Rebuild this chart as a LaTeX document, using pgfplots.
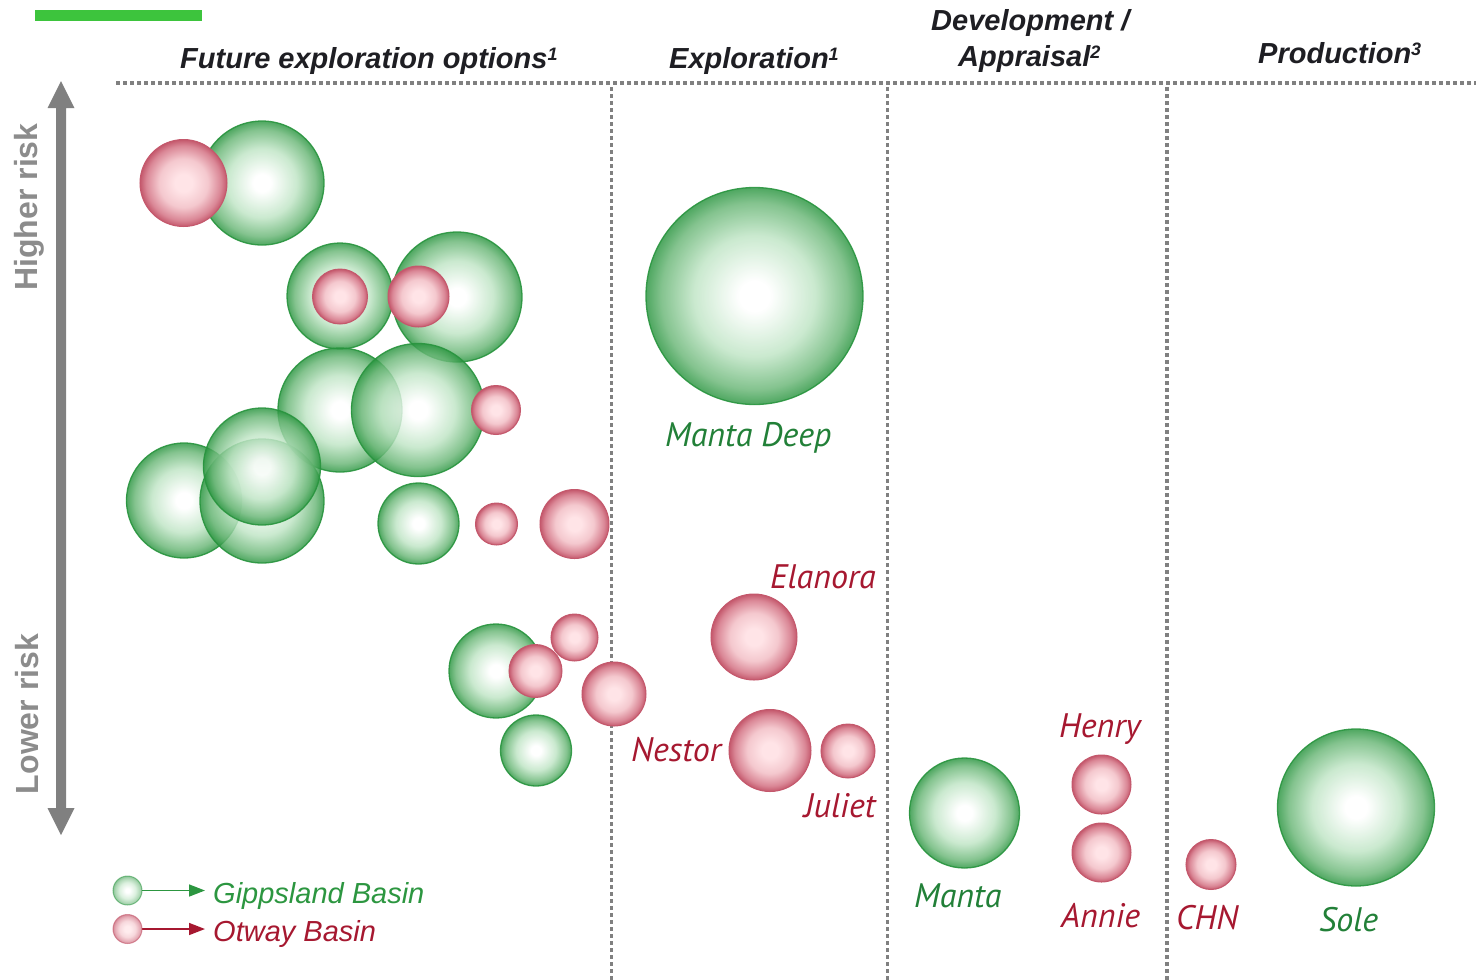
\documentclass[border=0pt]{standalone}
\usepackage{pgfplots}
\pgfplotsset{compat=1.18}
\usepackage{pgfplotstable}
\usetikzlibrary{arrows.meta}
\usepackage{fontspec}
\setmainfont{Liberation Sans}
\newfontfamily\ptsans{PT Sans}

\definecolor{gEdge}{RGB}{40,148,62}
\definecolor{gM2}{RGB}{105,182,118}
\definecolor{gM1}{RGB}{190,228,196}
\definecolor{rEdge}{RGB}{196,88,108}
\definecolor{rM2}{RGB}{218,135,150}
\definecolor{rM1}{RGB}{244,200,206}
\definecolor{rCen}{RGB}{255,228,231}
\definecolor{gText}{RGB}{34,128,56}
\definecolor{gLeg}{RGB}{44,150,64}
\definecolor{rText}{RGB}{166,24,48}
\definecolor{dotGray}{RGB}{128,128,128}
\definecolor{riskGray}{RGB}{140,140,140}
\definecolor{hdr}{RGB}{30,30,35}
\definecolor{barGreen}{RGB}{61,196,61}

\pgfdeclareradialshading{gshade}{\pgfpoint{0bp}{0bp}}{color(0bp)=(white); color(3.5bp)=(white); color(14bp)=(gM1); color(21.5bp)=(gM2); color(25bp)=(gEdge); color(50bp)=(gEdge)}
\pgfdeclareradialshading{rshade}{\pgfpoint{0bp}{0bp}}{color(0bp)=(rCen); color(5bp)=(rCen); color(14bp)=(rM1); color(21.5bp)=(rM2); color(25bp)=(rEdge); color(50bp)=(rEdge)}

\pgfdeclareplotmark{gball}{%
  \pgfpathcircle{\pgfpointorigin}{\pgfplotmarksize}%
  \pgfshadepath{gshade}{0}%
  \pgfsetstrokecolor{gEdge}%
  \pgfusepath{stroke}}
\pgfdeclareplotmark{rball}{%
  \pgfpathcircle{\pgfpointorigin}{\pgfplotmarksize}%
  \pgfshadepath{rshade}{0}%
  \pgfsetstrokecolor{rEdge}%
  \pgfusepath{stroke}}

\pgfplotstableread{
x y r
262 183 62
340 296 53
457 297 65
340 410 62
418 410 66.5
184 500.5 57.5
262 501 62
262 466.5 58.5
418.5 523.5 40.5
754.5 296 108.5
496 671 47
536 750.5 35.5
964.5 813 55
1356 807.5 78.5
}\greenTab

\pgfplotstableread{
x y r
183.5 183 43.5
340 296.5 27.5
418.5 296.5 30.5
496 410 24.5
496.5 524 21
574.5 524 34.5
574.5 637.5 23.5
535.5 671 26.5
614 694 32
754 637 43
770 750.5 41
848 751 27
1101.5 784.5 29.5
1101.5 852.5 29.5
1211 864.5 25
}\redTab

\newcommand\hfont{\fontsize{29bp}{34bp}\selectfont\bfseries\itshape}
\newcommand\lfont{\fontsize{34bp}{38bp}\selectfont\ptsans\itshape}
\newcommand\legfont{\fontsize{29bp}{34bp}\selectfont\itshape}
\newcommand\riskfont{\fontsize{32bp}{36bp}\selectfont\bfseries}
\newcommand\sups[1]{\raisebox{8bp}{\fontsize{18bp}{18bp}\selectfont #1}}

\begin{document}
\begin{tikzpicture}
\begin{axis}[width=1476bp, height=980bp, scale only axis,
  xmin=0, xmax=1476, ymin=0, ymax=980, y dir=reverse,
  hide axis, clip=false]

% green bar
\fill[barGreen] (35,10) rectangle (202,21);

% bubbles
\addplot[scatter, only marks, mark=gball, line width=1.3bp, fill opacity=0.82, draw opacity=0.9,
  visualization depends on={\thisrow{r} \as \rr},
  scatter/@pre marker code/.code={\pgfsetplotmarksize{\rr bp}},
  scatter/@post marker code/.code={}]
  table[x=x, y=y] {\greenTab};
\addplot[scatter, only marks, mark=rball, line width=1.0bp,
  visualization depends on={\thisrow{r} \as \rr},
  scatter/@pre marker code/.code={\pgfsetplotmarksize{\rr bp}},
  scatter/@post marker code/.code={}]
  table[x=x, y=y] {\redTab};

% legend markers
\addplot[only marks, mark=gball, mark size=14.5bp, line width=1bp, fill opacity=0.55, draw opacity=0.5] coordinates {(127.5,890.5)};
\addplot[only marks, mark=rball, mark size=14.5bp, line width=1bp, fill opacity=0.7, draw opacity=0.6] coordinates {(127.5,929)};
\draw[gLeg, line width=1.6bp, -{Triangle[length=16bp,width=12bp]}] (142,890.5) -- (205,890.5);
\draw[rText, line width=1.6bp, -{Triangle[length=16bp,width=12bp]}] (142,929) -- (205,929);
\node[anchor=base west, inner sep=0, text=gLeg, font=\legfont] at (213,903) {Gippsland Basin};
\node[anchor=base west, inner sep=0, text=rText, font=\legfont] at (213,941) {Otway Basin};

% dotted separators
\draw[dotGray, line width=3.5bp, dash pattern=on 3.5bp off 3.5bp] (116,83) -- (1476,83);
\draw[dotGray, line width=3.5bp, dash pattern=on 3.5bp off 3.5bp] (611.5,87) -- (611.5,980);
\draw[dotGray, line width=3.5bp, dash pattern=on 3.5bp off 3.5bp] (887.5,87) -- (887.5,980);
\draw[dotGray, line width=3.5bp, dash pattern=on 3.5bp off 3.5bp] (1167,87) -- (1167,980);

% headers
\node[anchor=base west, inner sep=0, text=hdr, font=\hfont] at (180,68) {Future exploration options\sups{1}};
\node[anchor=base west, inner sep=0, text=hdr, font=\hfont] at (669,68) {Exploration\sups{1}};
\node[anchor=base west, inner sep=0, text=hdr, font=\hfont] at (931,30) {Development /};
\node[anchor=base west, inner sep=0, text=hdr, font=\hfont] at (958,66) {Appraisal\sups{2}};
\node[anchor=base west, inner sep=0, text=hdr, font=\hfont] at (1258,63) {Production\sups{3}};

% risk arrow
\fill[dotGray] (61,81) -- (74.5,108) -- (66,108) -- (66,808) -- (74.5,808) -- (61,835)
  -- (47.5,808) -- (56,808) -- (56,108) -- (47.5,108) -- cycle;
\node[anchor=base, inner sep=0, rotate=90, text=riskGray, font=\riskfont] at (37.5,207) {Higher risk};
\node[anchor=base, inner sep=0, rotate=90, text=riskGray, font=\riskfont] at (38,714) {Lower risk};

% bubble labels
\node[anchor=base west, inner sep=0, text=gText, font=\lfont] at (665,446) {Manta Deep};
\node[anchor=base west, inner sep=0, text=rText, font=\lfont] at (770,588) {Elanora};
\node[anchor=base west, inner sep=0, text=rText, font=\lfont] at (631,761) {Nestor};
\node[anchor=base west, inner sep=0, text=rText, font=\lfont] at (804,817) {Juliet};
\node[anchor=base west, inner sep=0, text=rText, font=\lfont] at (1059,737) {Henry};
\node[anchor=base west, inner sep=0, text=rText, font=\lfont] at (1061,927) {Annie};
\node[anchor=base west, inner sep=0, text=rText, font=\lfont] at (1176,929) {CHN};
\node[anchor=base west, inner sep=0, text=gText, font=\lfont] at (914,907) {Manta};
\node[anchor=base west, inner sep=0, text=gText, font=\lfont] at (1319,931) {Sole};
\end{axis}
\pgfresetboundingbox
\path (0,0) rectangle (1476bp,980bp);
\end{tikzpicture}
\end{document}
